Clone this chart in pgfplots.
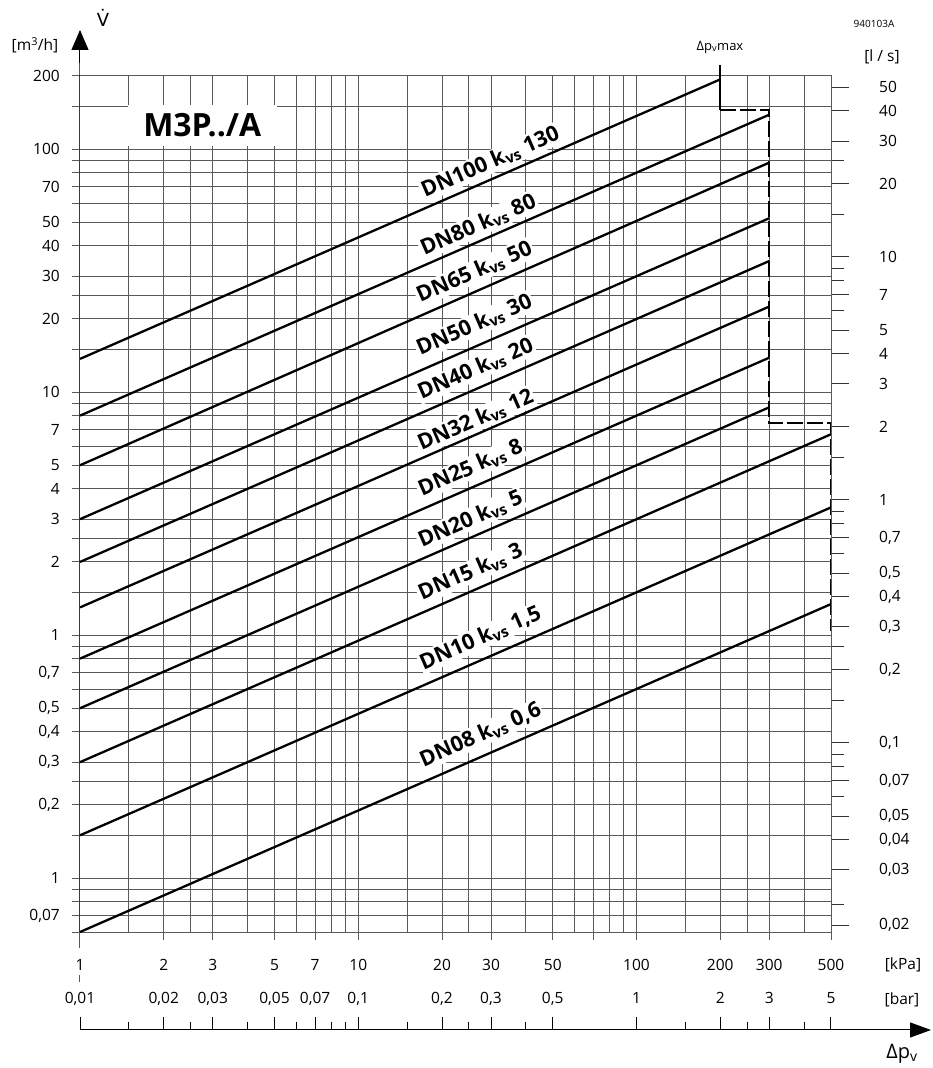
\documentclass[border=0pt]{standalone}
\usepackage{fontspec}
\setmainfont{Open Sans}
\newfontfamily\dejavu{DejaVu Sans}
\usepackage{pgfplots}
\pgfplotsset{compat=1.18}
\usetikzlibrary{arrows.meta}
\tikzset{lbl/.style={rotate=23.6, fill=white, inner sep=1.5pt, font=\fontsize{21.5}{24}\selectfont\bfseries}}

\begin{document}
\begin{tikzpicture}
\path[use as bounding box] (0pt,0pt) rectangle (933pt,1068pt);
% ---------------- main chart ----------------
\begin{axis}[
  at={(80pt,136pt)}, anchor=south west,
  scale only axis, width=751pt, height=856pt,
  xmode=log, ymode=log,
  xmin=1, xmax=500, ymin=0.06, ymax=200,
  clip=false,
  axis line style={black!65, line width=1pt},
  tick align=outside,
  xtick pos=bottom, ytick pos=left,
  xtick={1,2,3,5,7,10,20,30,50,70,100,200,300,500},
  xticklabels={1,2,3,5,7,10,20,30,50,{},100,200,300,500},
  minor xtick={1.5,2.5,4,6,8,9,15,25,40,60,80,90,150,250,400},
  ytick={0.06,0.07,0.08,0.09,0.1,0.15,0.2,0.25,0.3,0.4,0.5,0.6,0.7,0.8,0.9,1,1.5,2,2.5,3,4,5,6,7,8,9,10,15,20,25,30,40,50,60,70,80,90,100,150,200},
  yticklabels={{},{0,07},{},{},1,{},{0,2},{},{0,3},{0,4},{0,5},{},{0,7},{},{},1,{},2,{},3,4,5,{},7,{},{},10,{},20,{},30,40,50,{},70,{},{},100,{},200},
  minor ytick={},
  grid=both,
  major grid style={black!65, line width=1pt},
  minor grid style={black!65, line width=1pt},
  major tick length=8pt, minor tick length=0pt,
  every tick/.style={black!65, line width=1pt},
  ticklabel style={font=\fontsize{15.5}{18}\selectfont, inner sep=0pt},
  xticklabel style={anchor=base, yshift=-30pt},
  yticklabel style={anchor=east, xshift=-12pt},
]
% labels (white boxes) first
\node[fill=white, inner sep=0pt, minimum width=149pt, minimum height=41pt,
      font=\fontsize{32}{36}\selectfont\bfseries] at (axis cs:2.75,125.6) {M3P../A};
\node[lbl] at (axis cs:29.85,88.4) {DN100 k\textsubscript{vs} 130};
\node[lbl] at (axis cs:27.0,48.7) {DN80 k\textsubscript{vs} 80};
\node[lbl] at (axis cs:26.15,31.2) {DN65 k\textsubscript{vs} 50};
\node[lbl] at (axis cs:26.15,18.87) {DN50 k\textsubscript{vs} 30};
\node[lbl] at (axis cs:26.4,12.44) {DN40 k\textsubscript{vs} 20};
\node[lbl] at (axis cs:26.4,7.67) {DN32 k\textsubscript{vs} 12};
\node[lbl] at (axis cs:25.3,4.87) {DN25 k\textsubscript{vs} 8};
\node[lbl] at (axis cs:25.3,3.00) {DN20 k\textsubscript{vs} 5};
\node[lbl] at (axis cs:25.3,1.817) {DN15 k\textsubscript{vs} 3};
\node[lbl] at (axis cs:27.5,0.972) {DN10 k\textsubscript{vs} 1,5};
\node[lbl] at (axis cs:27.5,0.388) {DN08 k\textsubscript{vs} 0,6};
% characteristic lines
\addplot[black, line width=2.3pt] coordinates {(1,13.7) (200,193.7)};
\addplot[black, line width=2.3pt] coordinates {(1,8) (300,138.6)};
\addplot[black, line width=2.3pt] coordinates {(1,5) (300,88)};
\addplot[black, line width=2.3pt] coordinates {(1,3) (300,51.96)};
\addplot[black, line width=2.3pt] coordinates {(1,2) (300,34.64)};
\addplot[black, line width=2.3pt] coordinates {(1,1.3) (300,22.5)};
\addplot[black, line width=2.3pt] coordinates {(1,0.8) (300,13.86)};
\addplot[black, line width=2.3pt] coordinates {(1,0.5) (300,8.66)};
\addplot[black, line width=2.3pt] coordinates {(1,0.3) (500,6.708)};
\addplot[black, line width=2.3pt] coordinates {(1,0.15) (500,3.354)};
\addplot[black, line width=2.3pt] coordinates {(1,0.06) (500,1.342)};
% max pressure limit
\addplot[black, line width=2.3pt] coordinates {(200,221.7) (200,145)};
\addplot[black, line width=2.3pt, dash pattern=on 16pt off 4pt] coordinates {(200,145) (300,145) (300,7.45) (500,7.45) (500,1.04)};
% y axis with arrow
\draw[black, line width=1pt, -{Triangle[length=20pt,width=17pt]}] (axis cs:1,0.06) -- (axis cs:1,200) -- ++(0pt,46pt);
\draw[black!65, line width=1pt] (axis cs:1,0.06) -- ++(0pt,-16pt);
\draw[black!65, line width=1pt] (axis cs:1,0.06) ++(0pt,-43pt) -- ++(0pt,-7pt);
\end{axis}
% ---------------- right axis (l/s) ----------------
\begin{axis}[
  at={(80pt,136pt)}, anchor=south west,
  scale only axis, width=751pt, height=856pt,
  xmode=log, ymode=log,
  xmin=1, xmax=500, ymin=0.06, ymax=200,
  hide x axis, axis y line*=right,
  axis line style={black!65, line width=1pt},
  ytick={0.0641,0.108,0.144,0.18,0.252,0.36,0.72,1.08,1.44,1.8,2.52,3.6,7.2,10.8,14.4,18,25.2,36,72,108,144,180},
  yticklabels={{0,02},{0,03},{0,04},{0,05},{0,07},{0,1},{0,2},{0,3},{0,4},{0,5},{0,7},1,2,3,4,5,7,10,20,30,40,50},
  minor ytick={0.078,0.216,0.288,0.324,0.54,0.9,2.16,2.88,3.24,5.4,21.6,28.8,32.4,54,90},
  tick align=outside, major tick length=18pt, minor tick length=13pt,
  every tick/.style={black!80, line width=1pt},
  ticklabel style={font=\fontsize{15.5}{18}\selectfont, inner sep=0pt},
  yticklabel style={anchor=west, xshift=30pt},
]
\addplot[draw=none] coordinates {(1,1)};
\end{axis}
% ---------------- bottom pressure axis ----------------
\begin{axis}[
  at={(80pt,38pt)}, anchor=north west,
  scale only axis, width=851pt, height=20pt,
  xmode=log, xmin=1, xmax=1144, ymin=0, ymax=1,
  hide y axis, axis x line*=top,
  x axis line style={black, line width=1pt, -{Triangle[length=21pt,width=15pt]}},
  xtick={1,2,3,5,7,10,20,30,50,100,200,300,500},
  xticklabels={{0,01},{0,02},{0,03},{0,05},{0,07},{0,1},{0,2},{0,3},{0,5},1,2,3,5},
  minor xtick={1.5,2.5,4,6,8,9,15,25,40,150,250,400},
  tick align=outside, major tick length=13pt, minor tick length=8pt,
  every tick/.style={black, line width=1pt},
  ticklabel style={font=\fontsize{15.5}{18}\selectfont, inner sep=0pt},
  xticklabel style={anchor=base, yshift=13pt},
]
\addplot[draw=none] coordinates {(1,0)};
\end{axis}
% ---------------- texts ----------------
\node[font=\fontsize{15.5}{18}\selectfont] at (903pt,103pt) {[kPa]};
\node[font=\fontsize{15.5}{18}\selectfont] at (902pt,68pt) {[bar]};
\node[font=\fontsize{20}{22}\selectfont] at (902pt,14pt) {Δp\textsubscript{v}};
\node[font=\fontsize{13}{15}\selectfont] at (720pt,1021pt) {Δp\textsubscript{v}max};
\node[font=\fontsize{10}{12}\selectfont] at (874pt,1044pt) {940103A};
\node[font=\fontsize{15.5}{18}\selectfont] at (882pt,1011pt) {[l / s]};
\node[font=\fontsize{15.5}{18}\selectfont] at (35pt,1023pt) {[m\textsuperscript{3}/h]};
\node[font=\fontsize{18}{20}\selectfont\dejavu] at (103pt,1050pt) {V̇};
\end{tikzpicture}
\end{document}
